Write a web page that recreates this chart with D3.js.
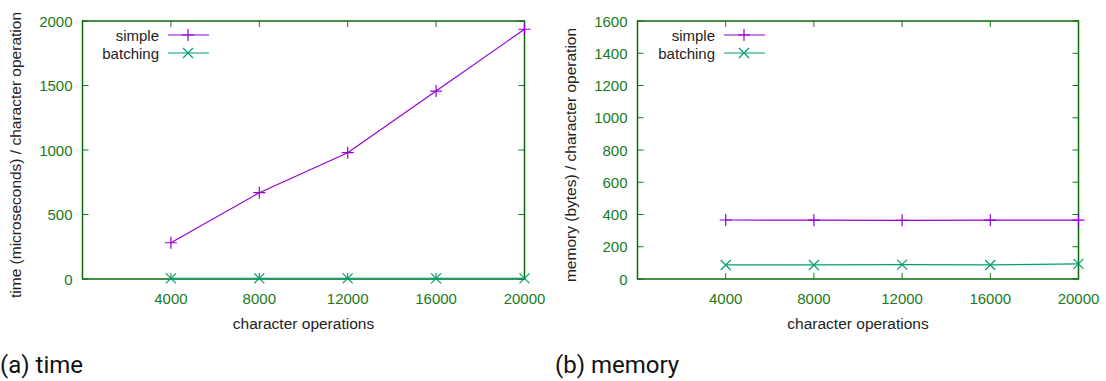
<!DOCTYPE html>
<html>
<head>
<meta charset="utf-8">
<script src="https://cdn.jsdelivr.net/npm/d3@7"></script>
<style>
  body { margin: 0; background: #fff; }
  svg { display: block; }
</style>
</head>
<body>
<svg id="chart" width="1106" height="381"></svg>
<script>
const ops = [4000, 8000, 12000, 16000, 20000];
const timeSimple = [281, 669, 979, 1457, 1936];
const timeBatching = [5, 5, 5, 5, 5];
const memSimple = [366, 365, 364, 365, 365];
const memBatching = [87, 87, 89, 87, 94];
const xTicks = [4000, 8000, 12000, 16000, 20000];
const timeTicks = [0, 500, 1000, 1500, 2000];
const memTicks = [0, 200, 400, 600, 800, 1000, 1200, 1400, 1600];

const green = '#1a7a1a';
const axisGreen = '#0b6b0b';
const font = 'Liberation Sans, Arial, sans-serif';
const svg = d3.select('#chart');

function panel(opt) {
  const x = d3.scaleLinear().domain([0, 20000]).range([opt.left, opt.right]);
  const y = d3.scaleLinear().domain([0, opt.ymax]).range([279, 21]);
  const g = svg.append('g');

  // inner ticks, mirrored on all sides
  g.selectAll('line.xt').data(xTicks).enter().append('line')
    .attr('x1', d => x(d)).attr('x2', d => x(d)).attr('y1', 279).attr('y2', 273)
    .attr('stroke', green).attr('stroke-width', 1);
  g.selectAll('line.xt2').data(xTicks).enter().append('line')
    .attr('x1', d => x(d)).attr('x2', d => x(d)).attr('y1', 21).attr('y2', 27)
    .attr('stroke', green).attr('stroke-width', 1);
  g.selectAll('line.yt').data(opt.yticks).enter().append('line')
    .attr('x1', opt.left).attr('x2', opt.left + 6).attr('y1', d => y(d)).attr('y2', d => y(d))
    .attr('stroke', green).attr('stroke-width', 1);
  g.selectAll('line.yt2').data(opt.yticks).enter().append('line')
    .attr('x1', opt.right).attr('x2', opt.right - 6).attr('y1', d => y(d)).attr('y2', d => y(d))
    .attr('stroke', green).attr('stroke-width', 1);

  g.append('rect')
    .attr('x', opt.left).attr('y', 21)
    .attr('width', opt.right - opt.left).attr('height', 258)
    .attr('fill', 'none').attr('stroke', axisGreen).attr('stroke-width', 1.5);

  // tick labels
  g.selectAll('text.xl').data(xTicks).enter().append('text')
    .attr('x', d => x(d)).attr('y', 304)
    .attr('text-anchor', 'middle')
    .attr('font-family', font).attr('font-size', 15)
    .attr('fill', green).text(d => d);
  g.selectAll('text.yl').data(opt.yticks).enter().append('text')
    .attr('x', opt.left - 10).attr('y', d => y(d) + 5.5)
    .attr('text-anchor', 'end')
    .attr('font-family', font).attr('font-size', 15)
    .attr('fill', green).text(d => d);

  // axis titles
  g.append('text')
    .attr('x', (opt.left + opt.right) / 2).attr('y', 329)
    .attr('text-anchor', 'middle')
    .attr('font-family', font).attr('font-size', 15.5)
    .attr('fill', '#222').text('character operations');
  g.append('text')
    .attr('transform', 'translate(' + opt.ylabX + ',155) rotate(-90)')
    .attr('text-anchor', 'middle')
    .attr('font-family', font).attr('font-size', 15.5)
    .attr('fill', '#222').text(opt.ylabel);

  const series = [
    {name: 'simple', vals: opt.simple, color: '#9400d3', mark: 'plus', ly: 35},
    {name: 'batching', vals: opt.batching, color: '#009e73', mark: 'cross', ly: 53}
  ];
  const line = d3.line().x((d, i) => x(ops[i])).y(d => y(d));

  function marker(sel, mark, color) {
    const p = mark === 'plus' ? 'M-6,0H6M0,-6V6' : 'M-5,-5L5,5M-5,5L5,-5';
    sel.append('path').attr('d', p).attr('stroke', color).attr('stroke-width', 1.2).attr('fill', 'none');
  }

  series.forEach(s => {
    g.append('path').datum(s.vals)
      .attr('d', line).attr('fill', 'none')
      .attr('stroke', s.color).attr('stroke-width', 1.2);
    g.selectAll(null).data(s.vals).enter().append('g')
      .attr('transform', (d, i) => 'translate(' + x(ops[i]) + ',' + y(d) + ')')
      .each(function() { marker(d3.select(this), s.mark, s.color); });

    // legend
    g.append('text')
      .attr('x', opt.legX).attr('y', s.ly + 5.5)
      .attr('text-anchor', 'end')
      .attr('font-family', font).attr('font-size', 15)
      .attr('fill', '#222').text(s.name);
    g.append('line')
      .attr('x1', opt.legX + 9).attr('x2', opt.legX + 50)
      .attr('y1', s.ly).attr('y2', s.ly)
      .attr('stroke', s.color).attr('stroke-width', 1.2);
    marker(g.append('g').attr('transform', 'translate(' + (opt.legX + 29) + ',' + s.ly + ')'), s.mark, s.color);
  });

  svg.append('text')
    .attr('x', opt.capX).attr('y', 373)
    .attr('font-family', 'Roboto, sans-serif').attr('font-size', 24)
    .attr('fill', '#111').text(opt.caption);
}

panel({left: 82.5, right: 524.5, ymax: 2000, yticks: timeTicks,
  simple: timeSimple, batching: timeBatching,
  ylabel: 'time (microseconds) / character operation', ylabX: 21,
  legX: 159, caption: '(a) time', capX: 0});

panel({left: 637.5, right: 1078.5, ymax: 1600, yticks: memTicks,
  simple: memSimple, batching: memBatching,
  ylabel: 'memory (bytes) / character operation', ylabX: 576,
  legX: 715, caption: '(b) memory', capX: 555});
</script>
</body>
</html>
